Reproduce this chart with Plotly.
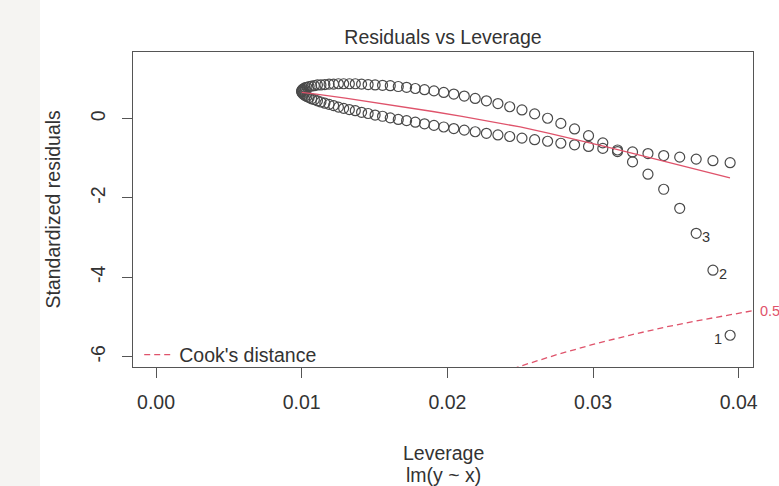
import plotly.graph_objects as go

# ---- data ----
leverage = [
    0.03941, 0.03823, 0.03708, 0.03595, 0.03485, 0.03377, 0.03271, 0.03168, 0.03067, 0.02969,
    0.02873, 0.02779, 0.02688, 0.02599, 0.02512, 0.02428, 0.02347, 0.02268, 0.02191, 0.02116,
    0.02044, 0.01975, 0.01908, 0.01843, 0.01780, 0.01720, 0.01663, 0.01608, 0.01555, 0.01504,
    0.01456, 0.01411, 0.01368, 0.01327, 0.01288, 0.01252, 0.01219, 0.01188, 0.01159, 0.01132,
    0.01108, 0.01087, 0.01068, 0.01051, 0.01036, 0.01024, 0.01015, 0.01008, 0.01003, 0.01000,
    0.01000, 0.01003, 0.01008, 0.01015, 0.01024, 0.01036, 0.01051, 0.01068, 0.01087, 0.01108,
    0.01132, 0.01159, 0.01188, 0.01219, 0.01252, 0.01288, 0.01327, 0.01368, 0.01411, 0.01456,
    0.01504, 0.01555, 0.01608, 0.01663, 0.01720, 0.01780, 0.01843, 0.01908, 0.01975, 0.02044,
    0.02116, 0.02191, 0.02268, 0.02347, 0.02428, 0.02512, 0.02599, 0.02688, 0.02779, 0.02873,
    0.02969, 0.03067, 0.03168, 0.03271, 0.03377, 0.03485, 0.03595, 0.03708, 0.03823, 0.03941,
]
std_resid = [
    -5.46, -3.82, -2.89, -2.26, -1.78, -1.40, -1.09, -0.83, -0.61, -0.43,
    -0.26, -0.12, 0.01, 0.12, 0.22, 0.30, 0.38, 0.45, 0.51, 0.57,
    0.62, 0.66, 0.70, 0.73, 0.76, 0.79, 0.81, 0.83, 0.84, 0.85,
    0.86, 0.87, 0.88, 0.88, 0.88, 0.88, 0.87, 0.87, 0.86, 0.85,
    0.85, 0.83, 0.82, 0.81, 0.79, 0.78, 0.76, 0.74, 0.72, 0.70,
    0.68, 0.66, 0.63, 0.61, 0.58, 0.56, 0.53, 0.50, 0.48, 0.45,
    0.42, 0.39, 0.36, 0.33, 0.29, 0.26, 0.23, 0.20, 0.16, 0.13,
    0.09, 0.06, 0.02, -0.02, -0.05, -0.09, -0.13, -0.17, -0.21, -0.25,
    -0.29, -0.33, -0.37, -0.41, -0.45, -0.49, -0.53, -0.57, -0.62, -0.66,
    -0.70, -0.75, -0.79, -0.84, -0.88, -0.93, -0.97, -1.02, -1.06, -1.11,
]
labelled_idx = [0, 1, 2]
label_text = ["1", "2", "3"]
label_side = ["left", "right", "right"]

smooth_lev = [0.0100, 0.0110, 0.0130, 0.0150, 0.0170, 0.0190, 0.0210, 0.0230,
              0.0250, 0.0270, 0.0290, 0.0310, 0.0330, 0.0350, 0.0370, 0.0394]
smooth_res = [0.66, 0.62, 0.52, 0.41, 0.30, 0.18, 0.06, -0.07,
              -0.21, -0.37, -0.54, -0.72, -0.90, -1.08, -1.27, -1.49]

cook_lev = [0.0245, 0.0250, 0.0275, 0.0300, 0.0325, 0.0350, 0.0375, 0.0400, 0.0410]
cook_res = [-6.31, -6.24, -5.95, -5.69, -5.46, -5.25, -5.07, -4.90, -4.84]
cook_label = "0.5"
cook_label_y = -4.84

x_ticks = [0.00, 0.01, 0.02, 0.03, 0.04]
x_ticklabels = ["0.00", "0.01", "0.02", "0.03", "0.04"]
y_ticks = [0, -2, -4, -6]
y_ticklabels = ["0", "-2", "-4", "-6"]

title_text = "Residuals vs Leverage"
x_title = "Leverage"
sub_title = "lm(y ~ x)"
y_title = "Standardized residuals"

# ---- styles ----
FONT = "Liberation Sans, Arial, Helvetica, sans-serif"
TXT = "#333333"
AX = "#555555"
RED = "#DF536B"
FS = 19.5
FS_SMALL = 14.5

fig = go.Figure()

fig.add_trace(go.Scatter(
    x=leverage, y=std_resid, mode="markers",
    marker=dict(symbol="circle-open", size=10, color="#4a4a4a", line=dict(width=1.2)),
    showlegend=False, hoverinfo="skip"))

fig.add_trace(go.Scatter(
    x=smooth_lev, y=smooth_res, mode="lines",
    line=dict(color=RED, width=1.3), showlegend=False, hoverinfo="skip"))

fig.add_trace(go.Scatter(
    x=cook_lev, y=cook_res, mode="lines", name="Cook's distance",
    line=dict(color=RED, width=1.3, dash="6px,4px"), showlegend=True, hoverinfo="skip"))

fig.add_hline(y=0, line=dict(color="#d4d4d4", width=1, dash="dot"), layer="below")
fig.add_vline(x=0, line=dict(color="#d4d4d4", width=1, dash="dot"), layer="below")

annotations = []
for i, t, side in zip(labelled_idx, label_text, label_side):
    annotations.append(dict(
        x=leverage[i], y=std_resid[i], xref="x", yref="y", text=t, showarrow=False,
        xanchor="right" if side == "left" else "left",
        xshift=-6 if side == "left" else 4, yshift=-4,
        font=dict(size=FS_SMALL, color=TXT, family=FONT)))

annotations.append(dict(x=1, y=cook_label_y, xref="paper", yref="y", text=cook_label,
                        showarrow=False, xanchor="left", yanchor="middle", xshift=5,
                        font=dict(size=FS_SMALL, color=RED, family=FONT)))
annotations.append(dict(x=0.5, y=-0.273, xref="paper", yref="paper", text=x_title,
                        showarrow=False, xanchor="center", yanchor="middle",
                        font=dict(size=FS, color=TXT, family=FONT)))
annotations.append(dict(x=0.5, y=-0.343, xref="paper", yref="paper", text=sub_title,
                        showarrow=False, xanchor="center", yanchor="middle",
                        font=dict(size=FS, color=TXT, family=FONT)))
annotations.append(dict(x=-0.1306, y=0.5, xref="paper", yref="paper", text=y_title,
                        showarrow=False, xanchor="center", yanchor="middle", textangle=-90,
                        font=dict(size=FS, color=TXT, family=FONT)))

fig.update_layout(
    width=779, height=486,
    margin=dict(l=133, r=26, t=52, b=119),
    paper_bgcolor="white", plot_bgcolor="white",
    font=dict(family=FONT, size=FS, color=TXT),
    title=dict(text=title_text, x=0.5, xref="paper", xanchor="center",
               y=1 - 37 / 486, yref="container", yanchor="middle",
               font=dict(size=FS, color=TXT, family=FONT)),
    showlegend=True,
    legend=dict(x=0.01, y=0.038, xanchor="left", yanchor="middle",
                bgcolor="rgba(0,0,0,0)", borderwidth=0,
                font=dict(size=FS, color=TXT, family=FONT), itemwidth=30),
    annotations=annotations,
    shapes=[dict(type="rect", xref="paper", yref="paper",
                 x0=-0.2145, x1=-0.15, y0=-0.378, y1=1.166,
                 fillcolor="#f5f4f2", line=dict(width=0), layer="below")],
)

fig.update_xaxes(
    range=[-0.00158, 0.04098], tickmode="array", tickvals=x_ticks, ticktext=x_ticklabels,
    ticks="outside", ticklen=10, tickwidth=1, tickcolor=AX, ticklabelstandoff=8,
    showline=True, linecolor=AX, linewidth=1, mirror=True,
    showgrid=False, zeroline=False,
    tickfont=dict(size=FS, color=TXT, family=FONT))
fig.update_yaxes(
    range=[-6.26, 1.68], tickmode="array", tickvals=y_ticks, ticktext=y_ticklabels,
    ticks="outside", ticklen=10, tickwidth=1, tickcolor=AX, tickangle=-90,
    ticklabelstandoff=9,
    showline=True, linecolor=AX, linewidth=1, mirror=True,
    showgrid=False, zeroline=False,
    tickfont=dict(size=FS, color=TXT, family=FONT))

fig.write_html("out.html", config={"displayModeBar": False},
               post_script="document.body.style.margin='0px';")
